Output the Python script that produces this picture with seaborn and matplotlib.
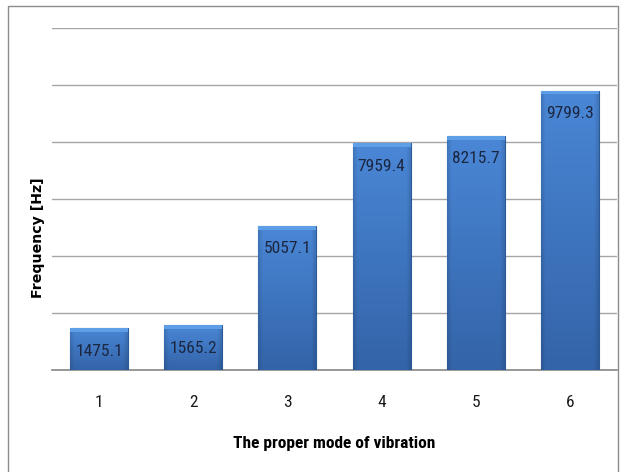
import numpy as np
import pandas as pd
import seaborn as sn
from matplotlib import pyplot as plt
from matplotlib import patches
from matplotlib import font_manager

# ----- datos -----
modes = ['1', '2', '3', '4', '5', '6']
freq = [1475.1, 1565.2, 5057.1, 7959.4, 8215.7, 9799.3]

df = pd.DataFrame({'mode': modes, 'freq': freq})

sn.set_theme(style='white')
names = sorted({f.name for f in font_manager.fontManager.ttflist})
narrow = [n for n in ['Liberation Sans Narrow', 'Roboto Condensed', 'Open Sans Condensed',
                      'DejaVu Sans'] if n in names]
plt.rcParams['font.family'] = narrow
plt.rcParams['font.stretch'] = 'condensed'

fig = plt.figure(figsize=(6.22, 4.72), dpi=100)
ax = fig.add_axes([52 / 622, 1 - 370 / 472, 565 / 622, 342 / 472])

sn.barplot(data=df, x='mode', y='freq', ax=ax, width=0.615,
           color='#3A76C4', edgecolor='#2A5A98', linewidth=0.8, zorder=3)

# gradiente tipo Excel dentro de cada barra
ny, nx = 128, 40
yy = np.linspace(0, 1, ny)[:, None]
xx = np.linspace(0, 1, nx)[None, :]
top = np.array([0.29, 0.53, 0.84])
bot = np.array([0.20, 0.39, 0.66])
grad = top[None, None, :] * (1 - yy[..., None]) + bot[None, None, :] * yy[..., None]
edge = 1 - 0.12 * (np.clip(1 - xx / 0.07, 0, 1) + np.clip(1 - (1 - xx) / 0.07, 0, 1))
grad = grad * edge[..., None]

for p in ax.patches:
    x0, y0 = p.get_x(), p.get_y()
    w, h = p.get_width(), p.get_height()
    im = ax.imshow(grad, extent=[x0, x0 + w, y0, y0 + h], aspect='auto',
                   origin='upper', zorder=3.5, interpolation='bilinear')
    im.set_clip_path(p)
    # bisel superior claro
    ax.add_patch(patches.Rectangle((x0, y0 + h - 130), w, 130, facecolor='#5E9EE6',
                                   edgecolor='none', zorder=3.6))

ax.set_xlim(-0.5, 5.5)
ax.set_ylim(0, 12000)
ax.set_yticks(np.arange(0, 12001, 2000))
ax.set_yticklabels([])
ax.yaxis.grid(True, color='#A6A6A6', linewidth=1)
ax.set_axisbelow(True)
for s in ['left', 'right', 'top']:
    ax.spines[s].set_visible(False)
ax.spines['bottom'].set_color('#8C8C8C')
ax.tick_params(axis='x', length=0, pad=18, labelsize=12.5, labelcolor='#1A1A1A')
ax.tick_params(axis='y', length=0)

ax.bar_label(ax.containers[0], labels=['%.1f' % v for v in freq],
             padding=-22, fontsize=12.5, color='#1B2640', zorder=5)

ax.set_xlabel('The proper mode of vibration', fontsize=12.5, fontweight='bold',
              color='black', labelpad=19)
ax.set_ylabel('Frequency [Hz]', fontsize=10.2, fontweight='bold', color='black',
              family='DejaVu Sans', fontstretch='normal')
ax.yaxis.set_label_coords(-0.0124, 0.386)

# marco exterior
fig.add_artist(patches.Rectangle((8 / 622, -0.1), 610 / 622, 1.1 - 6 / 472,
                                 transform=fig.transFigure, fill=False,
                                 edgecolor='#8C8C8C', linewidth=1))

plt.savefig('out.png', dpi=100)
